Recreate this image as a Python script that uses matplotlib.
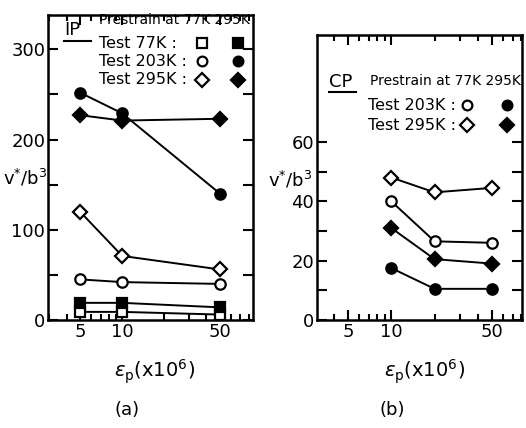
import numpy as np
import matplotlib
matplotlib.use("Agg")
import matplotlib.pyplot as plt
from matplotlib.ticker import FixedLocator, NullFormatter

plt.rcParams['font.family'] = ['DejaVu Sans']
plt.rcParams['mathtext.fontset'] = 'dejavusans'

# -- Data: panel (a), IP --
strain_a = [5, 10, 50]
a_77_open = [9, 9, 6]
a_77_fill = [19, 19, 14]
a_203_open = [45, 42, 40]
a_203_fill = [252, 229, 140]
a_295_open = [120, 71, 56]
a_295_fill = [227, 221, 223]

# -- Data: panel (b), CP --
strain_b = [10, 20, 50]
b_203_open = [40, 26.5, 26]
b_203_fill = [17.5, 10.5, 10.5]
b_295_open = [48, 43, 44.5]
b_295_fill = [31, 20.5, 19]

x_major = [5, 10, 50]
x_minor = [3, 4, 6, 7, 8, 9, 20, 30, 40, 60, 70, 80]

fig = plt.figure(figsize=(5.26, 4.28), dpi=100)
ax_a = fig.add_axes([48/526, 1 - 320/428, 205/526, 305/428])
ax_b = fig.add_axes([317/526, 1 - 320/428, 205/526, 285/428])

lw = 1.4
ms = 7.5


def series(ax, x, y, marker, filled, size=ms):
    fc = 'black' if filled else 'white'
    ax.plot(x, y, '-', color='black', lw=lw, marker=marker, ms=size,
            mfc=fc, mec='black', mew=1.6, zorder=3, clip_on=False)


def style(ax, xlim):
    ax.set_xscale('log')
    ax.set_xlim(*xlim)
    ax.xaxis.set_major_locator(FixedLocator(x_major))
    ax.xaxis.set_minor_locator(FixedLocator(x_minor))
    ax.xaxis.set_minor_formatter(NullFormatter())
    ax.set_xticklabels([str(v) for v in x_major])
    ax.tick_params(which='both', direction='in', top=True, right=True,
                   labelsize=13, width=1.5, pad=2)
    ax.tick_params(which='major', length=7)
    ax.tick_params(which='minor', length=4)
    for s in ax.spines.values():
        s.set_linewidth(1.8)


def underlined(ax, x, y, s):
    ax.text(x, y, s, transform=ax.transAxes, fontsize=13,
            va='center', ha='left')
    ax.plot([x, x + 0.13], [y - 0.035, y - 0.035], color='black', lw=1.5,
            transform=ax.transAxes)


# -- Panel (a) --
ax = ax_a
series(ax, strain_a, a_77_open, 's', False)
series(ax, strain_a, a_77_fill, 's', True)
series(ax, strain_a, a_203_open, 'o', False)
series(ax, strain_a, a_203_fill, 'o', True)
series(ax, strain_a, a_295_open, 'D', False, 7)
series(ax, strain_a, a_295_fill, 'D', True, 7)
style(ax, (2.95, 86))
ax.set_ylim(0, 338)
ax.set_yticks([0, 100, 200, 300])
ax.set_yticks([50, 150, 250], minor=True)
ax.tick_params(axis='y', which='minor', length=7)

underlined(ax, 0.08, 0.95, 'IP')
ax.text(0.25, 0.985, 'Prestrain at 77K 295K', transform=ax.transAxes,
        fontsize=10, va='center', ha='left', clip_on=False)
rows_a = [('Test 77K :', 's', 0.908), ('Test 203K :', 'o', 0.849),
          ('Test 295K :', 'D', 0.787)]
for label, m, yy in rows_a:
    ax.text(0.25, yy, label, transform=ax.transAxes, fontsize=11.5,
            va='center', ha='left')
    ax.plot([0.751], [yy], marker=m, ms=7, mfc='white', mec='black',
            mew=1.6, transform=ax.transAxes, ls='none')
    ax.plot([0.927], [yy], marker=m, ms=7, mfc='black', mec='black',
            mew=1.6, transform=ax.transAxes, ls='none')

# -- Panel (b) --
ax = ax_b
series(ax, strain_b, b_295_open, 'D', False, 7)
series(ax, strain_b, b_203_open, 'o', False)
series(ax, strain_b, b_295_fill, 'D', True, 7)
series(ax, strain_b, b_203_fill, 'o', True)
style(ax, (3.05, 81))
ax.set_ylim(0, 96)
ax.set_yticks([0, 20, 40, 60])
ax.set_yticks([10, 30, 50], minor=True)
ax.tick_params(axis='y', which='minor', length=7)

underlined(ax, 0.06, 0.835, 'CP')
ax.text(0.26, 0.84, 'Prestrain at 77K 295K', transform=ax.transAxes,
        fontsize=10, va='center', ha='left', clip_on=False)
rows_b = [('Test 203K :', 'o', 0.754), ('Test 295K :', 'D', 0.684)]
for label, m, yy in rows_b:
    ax.text(0.25, yy, label, transform=ax.transAxes, fontsize=11.5,
            va='center', ha='left')
    ax.plot([0.73], [yy], marker=m, ms=7, mfc='white', mec='black',
            mew=1.6, transform=ax.transAxes, ls='none')
    ax.plot([0.927], [yy], marker=m, ms=7, mfc='black', mec='black',
            mew=1.6, transform=ax.transAxes, ls='none')

# -- Labels --
ylab = r'$\mathrm{v}^{*}/\mathrm{b}^{3}$'
fig.text(25/526, 1 - 178/428, ylab, fontsize=13, ha='center', va='center')
fig.text(290/526, 1 - 180/428, ylab, fontsize=13, ha='center', va='center')
xlab = r'$\varepsilon_{\mathrm{p}}$(x10$^{6}$)'
fig.text(155/526, 1 - 372/428, xlab, fontsize=14, ha='center', va='center')
fig.text(425/526, 1 - 372/428, xlab, fontsize=14, ha='center', va='center')
fig.text(127/526, 1 - 410/428, '(a)', fontsize=13, ha='center', va='center')
fig.text(392/526, 1 - 410/428, '(b)', fontsize=13, ha='center', va='center')

fig.savefig('out.png', dpi=100)
